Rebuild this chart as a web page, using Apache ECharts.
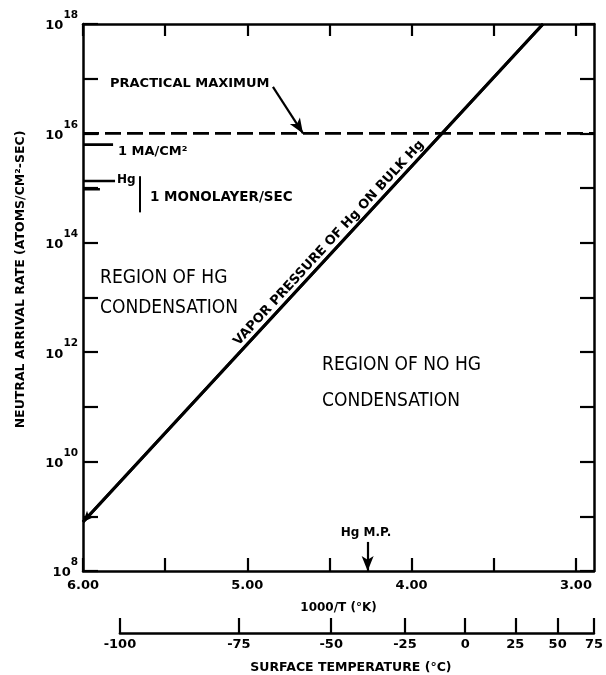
<!DOCTYPE html>
<html>
<head>
<meta charset="utf-8">
<script src="https://cdn.jsdelivr.net/npm/echarts@6/dist/echarts.min.js"></script>
<style>
  html, body { margin: 0; padding: 0; background: #fff; }
  #chart { width: 606px; height: 675px; }
</style>
</head>
<body>
<div id="chart"></div>
<script>
// ---- axis ranges and ticks -------------------------------------------
const invTMin = 2.89;            // 1000/T at the warm (right) edge
const invTMax = 6.0;             // 1000/T at the cold (left) edge
const invTTicks = [3.0, 3.5, 4.0, 4.5, 5.0, 5.5, 6.0];
const invTLabels = [3.0, 4.0, 5.0, 6.0];
const rateMin = 1e8;
const rateMax = 1e18;
const celsiusTicks = [-100, -75, -50, -25, 0, 25, 50, 75];

// ---- curves and reference levels (x = 1000/T, y = atoms/cm^2-sec) -----
const vaporX = [6.0, 3.20];          // vapor pressure of Hg on bulk Hg
const vaporY = [7.9e8, 1.0e18];
const practicalMax = 1e16;           // practical maximum arrival rate
const currentRate = 6.24e15;         // 1 mA/cm^2
const currentEndX = 5.817;
const monolayerRates = [1.35e15, 9.5e14];  // Hg, 1 monolayer/sec
const monolayerEndX = [5.805, 5.897];
const bracketX = 5.653;
const bracketRates = [1.65e15, 3.6e14];
const hgMeltC = -38.83;              // Hg melting point, deg C

// ---- layout ----------------------------------------------------------
const G = { left: 83, top: 24, width: 511, height: 547 };
const pxPerUnit = G.width / (invTMax - invTMin);
const toInv = c => 1000 / (c + 273.15);
const tempLo = toInv(celsiusTicks[celsiusTicks.length - 1]);
const tempHi = toInv(celsiusTicks[0]);
const G2 = {
  left: G.left + (invTMax - tempHi) * pxPerUnit,
  width: (tempHi - tempLo) * pxPerUnit,
  top: 620, height: 15
};

const INK = '#000';
const boldFont = 'DejaVu Sans';
const narrowFont = '"Liberation Sans Narrow", "DejaVu Sans Condensed", sans-serif';

const seg = (xs, ys) => xs.map((x, i) => [x, ys[i]]);
function lineSeries(data, width, type) {
  return {
    type: 'line', xAxisIndex: 0, yAxisIndex: 0, data,
    symbol: 'none', silent: true, animation: false,
    lineStyle: { color: INK, width: width, type: type || 'solid' }
  };
}

const hgMeltX = toInv(hgMeltC);
const vaporPts = seg(vaporX, vaporY);

const series = [
  Object.assign(lineSeries(vaporPts, 3), {
    markLine: {
      silent: true, animation: false,
      symbol: ['none', 'arrow'], symbolSize: [7, 11],
      lineStyle: { color: INK, width: 3, type: 'solid' },
      label: { show: false },
      data: [[{ coord: vaporPts[1] }, { coord: vaporPts[0] }]]
    }
  }),
  lineSeries([[invTMax, practicalMax], [invTMin, practicalMax]], 2.6, [16, 6]),
  lineSeries([[invTMax, currentRate], [currentEndX, currentRate]], 2.6),
  lineSeries([[invTMax, monolayerRates[0]], [monolayerEndX[0], monolayerRates[0]]], 2.6),
  lineSeries([[invTMax, monolayerRates[1]], [monolayerEndX[1], monolayerRates[1]]], 2.6),
  lineSeries([[bracketX, bracketRates[0]], [bracketX, bracketRates[1]]], 2),
  {
    type: 'line', xAxisIndex: 0, yAxisIndex: 0, data: [], silent: true, animation: false,
    markLine: {
      silent: true, animation: false,
      symbol: ['none', 'arrow'], symbolSize: [9, 15],
      lineStyle: { color: INK, width: 2.2, type: 'solid' },
      label: { show: false },
      data: [
        [{ coord: [4.844, 7.1e16] }, { coord: [4.661, practicalMax] }],
        [{ coord: [hgMeltX, 3.4e8] }, { coord: [hgMeltX, rateMin] }]
      ]
    }
  }
];

const chart = echarts.init(document.getElementById('chart'), null, { renderer: 'canvas' });

const axisLineStyle = { color: INK, width: 2.5 };
const tickStyle = { color: INK, width: 2.2 };
const labelStyle = { color: INK, fontFamily: boldFont, fontWeight: 'bold', fontSize: 13 };

chart.setOption({
  animation: false,
  backgroundColor: '#fff',
  grid: [
    { left: G.left, top: G.top, width: G.width, height: G.height, containLabel: false },
    { left: G2.left, top: G2.top, width: G2.width, height: G2.height, containLabel: false }
  ],
  xAxis: [
    {
      gridIndex: 0, type: 'value', min: invTMin, max: invTMax, inverse: true, position: 'bottom',
      axisLine: { lineStyle: axisLineStyle },
      axisTick: { inside: true, length: 13, lineStyle: tickStyle, customValues: invTTicks },
      axisLabel: Object.assign({ customValues: invTLabels, formatter: v => v.toFixed(2), margin: 8 }, labelStyle),
      splitLine: { show: false },
      name: '1000/T (°K)', nameLocation: 'middle', nameGap: 31,
      nameTextStyle: { color: INK, fontFamily: boldFont, fontWeight: 'bold', fontSize: 12 }
    },
    {
      gridIndex: 0, type: 'value', min: invTMin, max: invTMax, inverse: true, position: 'top',
      axisLine: { lineStyle: axisLineStyle },
      axisTick: { inside: true, length: 12, lineStyle: tickStyle, customValues: invTTicks },
      axisLabel: { show: false },
      splitLine: { show: false }
    },
    {
      gridIndex: 1, type: 'value', min: tempLo, max: tempHi, inverse: true, position: 'bottom',
      axisLine: { lineStyle: axisLineStyle },
      axisTick: { inside: true, length: 15, lineStyle: tickStyle, customValues: celsiusTicks.map(toInv) },
      axisLabel: Object.assign({
        customValues: celsiusTicks.map(toInv),
        formatter: v => String(Math.round(1000 / v - 273.15)),
        margin: 5
      }, labelStyle),
      splitLine: { show: false },
      name: 'SURFACE TEMPERATURE (°C)', nameLocation: 'middle', nameGap: 28,
      nameTextStyle: { color: INK, fontFamily: boldFont, fontWeight: 'bold', fontSize: 12.5, padding: [0, 12, 0, 0] }
    }
  ],
  yAxis: [
    {
      gridIndex: 0, type: 'log', logBase: 10, min: rateMin, max: rateMax, splitNumber: 10,
      axisLine: { lineStyle: axisLineStyle },
      axisTick: { inside: true, length: 15, lineStyle: tickStyle },
      axisLabel: {
        margin: 5, color: INK,
        formatter: v => {
          const e = Math.round(Math.log10(v));
          return e % 2 === 0 ? '{b|10}{s|' + e + '}' : '';
        },
        rich: {
          b: { fontFamily: boldFont, fontWeight: 'bold', fontSize: 13, color: INK, padding: [4, 0, 0, 0] },
          s: { fontFamily: boldFont, fontWeight: 'bold', fontSize: 10.5, color: INK, padding: [0, 0, 17, 0] }
        }
      },
      splitLine: { show: false },
      name: 'NEUTRAL ARRIVAL RATE (ATOMS/CM²-SEC)', nameLocation: 'middle', nameGap: 56,
      nameTextStyle: { color: INK, fontFamily: boldFont, fontWeight: 'bold', fontSize: 12.5, padding: [0, 0, 0, 36] }
    },
    {
      gridIndex: 0, type: 'log', logBase: 10, min: rateMin, max: rateMax, splitNumber: 10, position: 'right',
      axisLine: { lineStyle: axisLineStyle },
      axisTick: { inside: true, length: 14, lineStyle: tickStyle },
      axisLabel: { show: false },
      splitLine: { show: false }
    },
    {
      gridIndex: 1, type: 'value', min: 0, max: 1, show: false
    }
  ],
  series: series,
  graphic: [
    { type: 'text', x: 110, y: 84, silent: true,
      style: { text: 'PRACTICAL MAXIMUM', font: 'bold 13px "DejaVu Sans"', fill: INK, verticalAlign: 'middle' } },
    { type: 'text', x: 118, y: 152, silent: true,
      style: { text: '1 MA/CM²', font: 'bold 13px "DejaVu Sans"', fill: INK, verticalAlign: 'middle' } },
    { type: 'text', x: 117, y: 180, silent: true,
      style: { text: 'Hg', font: 'bold 12px "DejaVu Sans"', fill: INK, verticalAlign: 'middle' } },
    { type: 'text', x: 150, y: 197, silent: true,
      style: { text: '1 MONOLAYER/SEC', font: 'bold 13.5px "DejaVu Sans"', fill: INK, verticalAlign: 'middle' } },
    { type: 'text', x: 329, y: 243, rotation: 47.3 * Math.PI / 180, silent: true,
      style: { text: 'VAPOR PRESSURE OF Hg ON BULK Hg', font: 'bold 13px "DejaVu Sans"', fill: INK,
               align: 'center', verticalAlign: 'middle' } },
    { type: 'text', x: 100, y: 278, silent: true,
      style: { text: 'REGION OF HG', font: '19px ' + narrowFont, fill: INK, verticalAlign: 'middle' } },
    { type: 'text', x: 100, y: 308, silent: true,
      style: { text: 'CONDENSATION', font: '19px ' + narrowFont, fill: INK, verticalAlign: 'middle' } },
    { type: 'text', x: 322, y: 365, silent: true,
      style: { text: 'REGION OF NO HG', font: '19px ' + narrowFont, fill: INK, verticalAlign: 'middle' } },
    { type: 'text', x: 322, y: 401, silent: true,
      style: { text: 'CONDENSATION', font: '19px ' + narrowFont, fill: INK, verticalAlign: 'middle' } },
    { type: 'text', x: 366, y: 533, silent: true,
      style: { text: 'Hg M.P.', font: 'bold 12px "DejaVu Sans"', fill: INK, align: 'center', verticalAlign: 'middle' } }
  ]
});
</script>
</body>
</html>
